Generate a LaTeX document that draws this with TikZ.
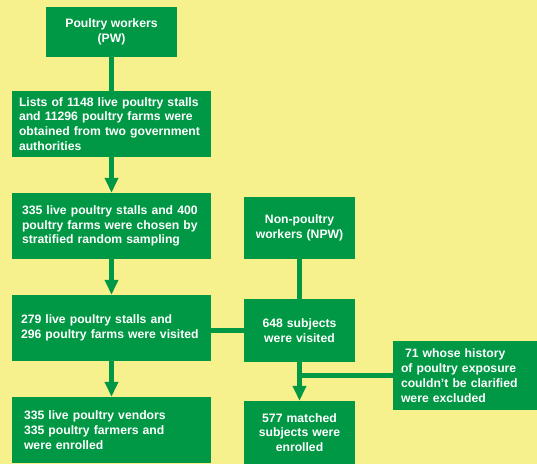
\documentclass[tikz,border=0pt]{standalone}
\usepackage{fontspec}
\setmainfont{Liberation Sans}
\usetikzlibrary{arrows.meta}
\definecolor{bggold}{RGB}{247,241,141}
\definecolor{boxgreen}{RGB}{0,152,68}
\tikzset{
  box/.style={fill=boxgreen, draw=none, text=white, font=\fontsize{12.2}{14.8}\selectfont\bfseries, inner ysep=0pt},
  leftbox/.style={box, align=left, minimum height=66pt, text width=#1, inner xsep={(199pt-#1)/2}},
  ctrbox/.style={box, align=center, minimum width=111pt, text width=105pt, inner xsep=3pt},
  conn/.style={draw=boxgreen, line width=4.5pt},
  arr/.style={conn, -{Triangle[width=13pt,length=15pt]}}
}
\begin{document}
\begin{tikzpicture}[x=1pt,y=1pt]
\fill[bggold] (0,0) rectangle (537,-464);
\useasboundingbox (0,0) rectangle (537,-464);
\node[box, align=center, minimum width=131pt, minimum height=50pt] (pw) at (111.5,-32) {Poultry workers\\(PW)};
\node[leftbox=185pt] (lists) at (111.5,-124) {Lists of 1148 live poultry stalls\\and 11296 poultry farms were\\obtained from two government\\authorities};
\node[leftbox=179pt] (chosen) at (111.5,-226) {335 live poultry stalls and 400\\poultry farms were chosen by\\stratified random sampling};
\node[leftbox=181pt] (visited) at (111.5,-328) {279 live poultry stalls and\\296 poultry farms were visited};
\node[leftbox=175pt] (enrolled) at (111.5,-430) {335 live poultry vendors\\335 poultry farmers and\\were enrolled};
\node[ctrbox, minimum height=62pt] (npw) at (299.5,-228) {Non-poultry\\workers (NPW)};
\node[ctrbox, minimum height=63pt] (s648) at (299.5,-330.5) {648 subjects\\were visited};
\node[ctrbox, minimum height=63pt] (matched) at (299.5,-432.5) {577 matched\\subjects were\\enrolled};
\node[box, align=left, minimum height=69pt, text width=128pt, inner xsep=8pt] (excl) at (465,-375.5) {\ 71 whose history\\of poultry exposure\\couldn't be clarified\\were excluded};
\draw[conn] (pw.south) -- (lists.north);
\draw[arr] (lists.south) -- (chosen.north);
\draw[arr] (chosen.south) -- (visited.north);
\draw[arr] (visited.south) -- (enrolled.north);
\draw[conn] (npw.south) -- (s648.north);
\draw[conn] (s648.west) -- (s648.west -| visited.east);
\draw[arr] (s648.south) -- (matched.north);
\draw[conn] (excl.west) -- (excl.west -| s648.south);
\end{tikzpicture}
\end{document}
